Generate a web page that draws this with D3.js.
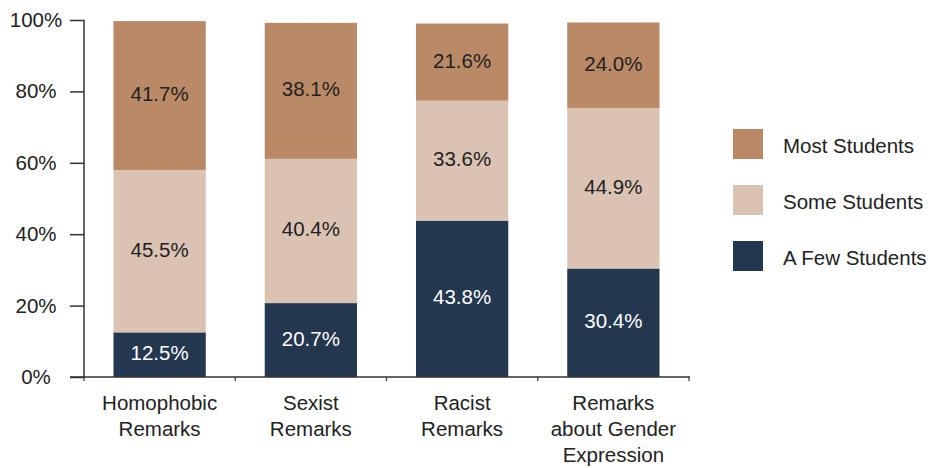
<!DOCTYPE html>
<html><head><meta charset="utf-8">
<script src="https://cdn.jsdelivr.net/npm/d3@7"></script>
<style>body{margin:0;background:#fff}svg{display:block;font-family:"Liberation Sans",Arial,sans-serif}</style>
</head><body><svg id="c" width="934" height="468"></svg>
<script>
const categories = [["Homophobic","Remarks"],["Sexist","Remarks"],["Racist","Remarks"],["Remarks","about Gender","Expression"]];
const seriesNames = ["A Few Students","Some Students","Most Students"];
const fewValues  = [12.5, 20.7, 43.8, 30.4];
const someValues = [45.5, 40.4, 33.6, 44.9];
const mostValues = [41.7, 38.1, 21.6, 24.0];
const yTicks = [0,20,40,60,80,100];
const colors = ["#23374f","#dbc3b3","#ba8a66"];
const textColors = ["#ffffff","#222222","#222222"];
const FS = 20.5;

const svg = d3.select("#c");
const x0 = 84, x1 = 689, yTop = 20, yBot = 377;
const x = d3.scaleBand().domain(d3.range(categories.length)).range([x0, x1]).paddingInner(0.39).paddingOuter(0.195);
const y = d3.scaleLinear().domain([0,100]).range([yBot, yTop]);

const rows = categories.map((c,i)=>({i, few:fewValues[i], some:someValues[i], most:mostValues[i]}));
const stack = d3.stack().keys(["few","some","most"])(rows);

stack.forEach((layer,k)=>{
  const g = svg.append("g");
  g.selectAll("rect").data(layer).join("rect")
    .attr("x", d=>x(d.data.i)).attr("width", x.bandwidth())
    .attr("y", d=>y(d[1])).attr("height", d=>y(d[0])-y(d[1]))
    .attr("fill", colors[k]);
  g.selectAll("text").data(layer).join("text")
    .attr("x", d=>x(d.data.i)+x.bandwidth()/2)
    .attr("y", d=>(y(d[0])+y(d[1]))/2 - 2)
    .attr("text-anchor","middle").attr("dominant-baseline","central")
    .attr("font-size",FS).attr("fill",textColors[k])
    .text(d=>(d[1]-d[0]).toFixed(1)+"%");
});

// y axis
const yAxis = d3.axisLeft(y).tickValues(yTicks).tickFormat(d=>d+"%").tickSize(14).tickPadding(8);
const ya = svg.append("g").attr("transform",`translate(${x0},0)`).call(yAxis);
ya.select(".domain").attr("stroke","#333").attr("stroke-width",1.5).attr("d",`M0,${yTop}V${yBot}`);
ya.selectAll(".tick line").attr("stroke","#333").attr("stroke-width",1.5);
ya.selectAll(".tick text").attr("font-size",FS).attr("fill","#222").attr("font-family","Liberation Sans, Arial, sans-serif")
  .attr("text-anchor","middle").attr("x",-48);

// x axis line
svg.append("line").attr("x1",70).attr("x2",x1+1).attr("y1",yBot).attr("y2",yBot).attr("stroke","#333").attr("stroke-width",1.5);
const bounds = d3.range(categories.length+1).map(i=>x0 + i*(x1-x0)/categories.length);
svg.selectAll(".xt").data(bounds).join("line").attr("class","xt")
  .attr("x1",d=>d).attr("x2",d=>d).attr("y1",yBot).attr("y2",yBot+4).attr("stroke","#333").attr("stroke-width",1.2);

// category labels
categories.forEach((lines,i)=>{
  const t = svg.append("text").attr("text-anchor","middle").attr("font-size",FS).attr("fill","#222");
  lines.forEach((ln,j)=>{
    t.append("tspan").attr("x", x(i)+x.bandwidth()/2).attr("y", 410 + j*26).text(ln);
  });
});

// legend
const legendOrder = [2,1,0];
legendOrder.forEach((k,j)=>{
  const ly = 129 + j*56;
  svg.append("rect").attr("x",733).attr("y",ly).attr("width",30).attr("height",30).attr("fill",colors[k]);
  svg.append("text").attr("x",783).attr("y",ly+16).attr("dominant-baseline","central")
    .attr("font-size",FS).attr("fill","#222").text(seriesNames[k]);
});
</script></body></html>
